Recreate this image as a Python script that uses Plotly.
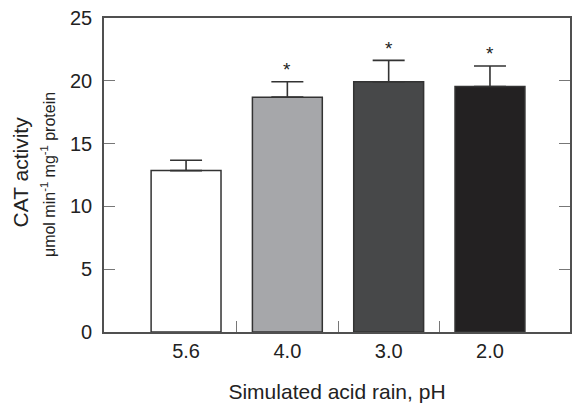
import plotly.graph_objects as go

categories = ["5.6", "4.0", "3.0", "2.0"]
values = [12.85, 18.7, 19.93, 19.55]
errors = [0.82, 1.22, 1.7, 1.63]
colors = ["#ffffff", "#a6a7aa", "#474849", "#232122"]
signif = ["", "*", "*", "*"]
y_ticks = [0, 5, 10, 15, 20, 25]

xs = list(range(len(categories)))
font = "Liberation Sans, Arial, sans-serif"
ink = "#222222"
line_col = "#505050"

fig = go.Figure()
fig.add_trace(go.Bar(
    x=xs, y=values, width=0.69,
    marker=dict(color=colors, line=dict(color="#333333", width=1.5)),
    error_y=dict(type="data", array=errors, arrayminus=[0]*len(errors), symmetric=False,
                 color="#333333", thickness=1.6, width=16),
    showlegend=False,
))
# invisible trace for secondary x axis (boundary ticks)
fig.add_trace(go.Scatter(x=[xs[0]], y=[0], xaxis="x2", mode="markers",
                         marker=dict(opacity=0), showlegend=False, hoverinfo="skip"))

for xi, v, e, s in zip(xs, values, errors, signif):
    if s:
        fig.add_annotation(x=xi, y=v + e, text=s, showarrow=False, yshift=12,
                           font=dict(family=font, size=19, color=ink))

fig.add_annotation(xref="paper", yref="paper", x=-0.179, y=0.51, text="CAT activity",
                   textangle=-90, showarrow=False, xanchor="center", yanchor="middle",
                   font=dict(family=font, size=21, color=ink))
fig.add_annotation(xref="paper", yref="paper", x=-0.12, y=0.50,
                   text="μmol min<sup>-1</sup> mg<sup>-1</sup> protein",
                   textangle=-90, showarrow=False, xanchor="center", yanchor="middle",
                   font=dict(family=font, size=16, color=ink))

xr = [-0.81, 3.79]
fig.update_layout(
    width=573, height=403,
    margin=dict(l=104, r=1, t=18, b=71),
    paper_bgcolor="white", plot_bgcolor="white",
    font=dict(family=font, color=ink),
    xaxis=dict(range=xr, tickvals=xs, ticktext=categories, ticks="", showgrid=False,
               zeroline=False, showline=True, linecolor=line_col, linewidth=1.6, mirror=True,
               tickfont=dict(size=20, color=ink),
               title=dict(text="Simulated acid rain, pH", font=dict(size=21, color=ink), standoff=25)),
    xaxis2=dict(range=xr, overlaying="x", side="bottom", tickvals=[0.5, 1.5, 2.5],
                ticks="inside", ticklen=11, tickwidth=1.2, tickcolor="#777777",
                showticklabels=False, showgrid=False, zeroline=False, showline=False),
    yaxis=dict(range=[0, 25], tickvals=y_ticks, ticks="inside", ticklen=11, tickwidth=1.2,
               tickcolor="#777777", showgrid=False, zeroline=False, showline=True,
               linecolor=line_col, linewidth=1.6, mirror="ticks",
               tickfont=dict(size=20, color=ink), ticklabelstandoff=6),
    bargap=0.31,
)

fig.write_html("out.html")
